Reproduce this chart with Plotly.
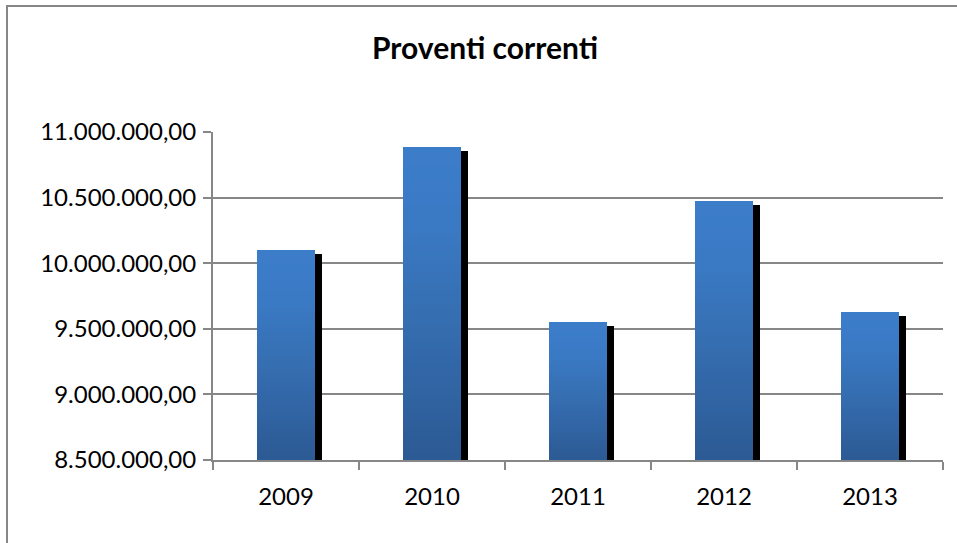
import plotly.graph_objects as go

# Data
years = ["2009", "2010", "2011", "2012", "2013"]
proventi = [10097000, 10889000, 9551000, 10475000, 9627000]
y_min, y_max, y_step = 8500000, 11000000, 500000

# Canvas / plot-area geometry (pixels)
W, H = 957, 543
L, R, T, B = 213, 14, 132, 83
plot_w = W - L - R
plot_h = H - T - B
units_per_px = (y_max - y_min) / plot_h
cat_per_px = len(years) / plot_w

bar_w = 0.4
shadow_dx = 6.5 * cat_per_px
shadow_dy = 4 * units_per_px

GRAY = "#878787"

fig = go.Figure()

# Drop shadow behind each column
fig.add_trace(go.Bar(
    x=years,
    y=[v - shadow_dy - y_min for v in proventi],
    base=y_min,
    width=bar_w,
    offset=-bar_w / 2 + shadow_dx,
    marker=dict(color="black", line_width=0),
    hoverinfo="skip",
))

# Vertical gradient fill: each column is built from stacked slices
stops = [(0.0, (44, 90, 148)), (0.5, (54, 112, 180)), (0.75, (58, 121, 196)), (1.0, (60, 125, 202))]


def grad_color(t):
    for (t0, c0), (t1, c1) in zip(stops[:-1], stops[1:]):
        if t0 <= t <= t1:
            f = (t - t0) / (t1 - t0)
            rgb = [round(a + (b - a) * f) for a, b in zip(c0, c1)]
            return "rgb({},{},{})".format(*rgb)
    return "rgb({},{},{})".format(*stops[-1][1])


N = 48
for k in range(N):
    t = (k + 0.5) / N
    fig.add_trace(go.Bar(
        x=years,
        y=[(v - y_min) / N for v in proventi],
        base=[y_min + (v - y_min) * k / N for v in proventi],
        width=bar_w,
        offset=-bar_w / 2,
        marker=dict(color=grad_color(t), line_width=0),
        hoverinfo="skip",
    ))

fig.update_layout(
    width=W,
    height=H,
    margin=dict(l=L, r=R, t=T, b=B),
    plot_bgcolor="white",
    paper_bgcolor="white",
    barmode="overlay",
    bargap=0,
    showlegend=False,
    separators=",.",
    font=dict(family="Lato, Carlito, Calibri, sans-serif", size=24, color="black"),
    title=dict(
        text="<b>Proventi correnti</b>",
        x=485 / W, xanchor="center", xref="container",
        y=1 - 48 / H, yanchor="middle", yref="container",
        font=dict(size=30, color="black"),
    ),
    shapes=[dict(
        type="rect", xref="paper", yref="paper",
        x0=(7 - L) / plot_w, x1=(975 - L) / plot_w,
        y0=1 - (560 - T) / plot_h, y1=1 - (6 - T) / plot_h,
        line=dict(color=GRAY, width=2), fillcolor="rgba(0,0,0,0)", layer="below",
    )],
)

fig.update_xaxes(
    type="category", tickson="boundaries", ticks="outside", ticklen=8,
    tickcolor=GRAY, tickwidth=2, showline=True, linecolor=GRAY, linewidth=2,
    showgrid=False, range=[-0.5, len(years) - 0.5], ticklabelstandoff=14,
)
fig.update_yaxes(
    range=[y_min, y_max], tick0=y_min, dtick=y_step, tickformat=",.2f",
    showgrid=True, gridcolor=GRAY, gridwidth=2, ticks="outside", ticklen=8,
    tickcolor=GRAY, tickwidth=2, showline=True, linecolor=GRAY, linewidth=2,
    zeroline=False, ticklabelstandoff=2,
)

fig.write_html("out.html")
